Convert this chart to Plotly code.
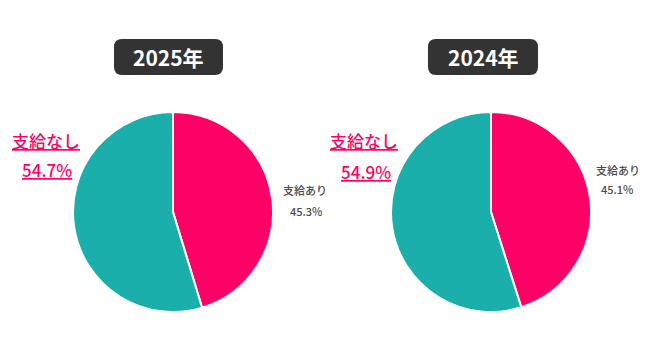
import plotly.graph_objects as go

years = ["2025年", "2024年"]
labels = ["支給あり", "支給なし"]
values_2025 = [45.3, 54.7]
values_2024 = [45.1, 54.9]
series = [values_2025, values_2024]

PINK = "#FF0066"
TEAL = "#1AAFAB"
FONT = "Noto Sans CJK JP"
W, H = 650, 354

fig = go.Figure()

centers = [(173, 212), (491, 212)]
R = 100
for (cx, cy), vals in zip(centers, series):
    fig.add_trace(go.Pie(
        labels=labels, values=vals, sort=False, direction="clockwise", rotation=0,
        marker=dict(colors=[PINK, TEAL], line=dict(color="white", width=2)),
        textinfo="none", hoverinfo="label+percent", showlegend=False,
        domain=dict(x=[(cx - R) / W, (cx + R) / W], y=[(H - cy - R) / H, (H - cy + R) / H]),
    ))

def rounded_rect(x0, y0, x1, y1, r):
    def p(x, y):
        return f"{x / W:.5f},{1 - y / H:.5f}"
    return (f"M {p(x0 + r, y0)} L {p(x1 - r, y0)} Q {p(x1, y0)} {p(x1, y0 + r)} "
            f"L {p(x1, y1 - r)} Q {p(x1, y1)} {p(x1 - r, y1)} L {p(x0 + r, y1)} "
            f"Q {p(x0, y1)} {p(x0, y1 - r)} L {p(x0, y0 + r)} Q {p(x0, y0)} {p(x0 + r, y0)} Z")

badges = [(114, 39, 223, 75), (428, 39, 538, 75)]
annotations = []
for (x0, y0, x1, y1), yr in zip(badges, years):
    fig.add_shape(type="path", xref="paper", yref="paper",
                  path=rounded_rect(x0, y0, x1, y1, 8),
                  fillcolor="#333333", line=dict(width=0), layer="above")
    annotations.append(dict(x=(x0 + x1) / 2 / W, y=1 - (y0 + y1) / 2 / H, xref="paper", yref="paper",
                            text=yr, showarrow=False,
                            font=dict(family=FONT, size=21, color="white", weight=700),
                            xanchor="center", yanchor="middle"))

left_pos = [((46, 140), (47, 169)), ((364, 140), (366, 171))]
right_pos = [((305, 190), (306, 211)), ((618, 170), (617, 189))]
for vals, lp, rp in zip(series, left_pos, right_pos):
    (lx1, ly1), (lx2, ly2) = lp
    annotations.append(dict(x=lx1 / W, y=1 - ly1 / H, xref="paper", yref="paper",
                            text=f"<u>{labels[1]}</u>", showarrow=False,
                            font=dict(family=FONT, size=17, color=PINK, weight=500),
                            xanchor="center", yanchor="middle"))
    annotations.append(dict(x=lx2 / W, y=1 - ly2 / H, xref="paper", yref="paper",
                            text=f"<u>{vals[1]}%</u>", showarrow=False,
                            font=dict(family=FONT, size=17, color=PINK, weight=500),
                            xanchor="center", yanchor="middle"))
    (rx1, ry1), (rx2, ry2) = rp
    annotations.append(dict(x=rx1 / W, y=1 - ry1 / H, xref="paper", yref="paper",
                            text=labels[0], showarrow=False,
                            font=dict(family=FONT, size=11, color="#4a4a4a", weight=500),
                            xanchor="center", yanchor="middle"))
    annotations.append(dict(x=rx2 / W, y=1 - ry2 / H, xref="paper", yref="paper",
                            text=f"{vals[0]}%", showarrow=False,
                            font=dict(family=FONT, size=11, color="#4a4a4a", weight=500),
                            xanchor="center", yanchor="middle"))

fig.update_layout(
    width=W, height=H, margin=dict(l=0, r=0, t=0, b=0),
    paper_bgcolor="white", plot_bgcolor="white",
    annotations=annotations,
)

fig.write_html("out.html")
